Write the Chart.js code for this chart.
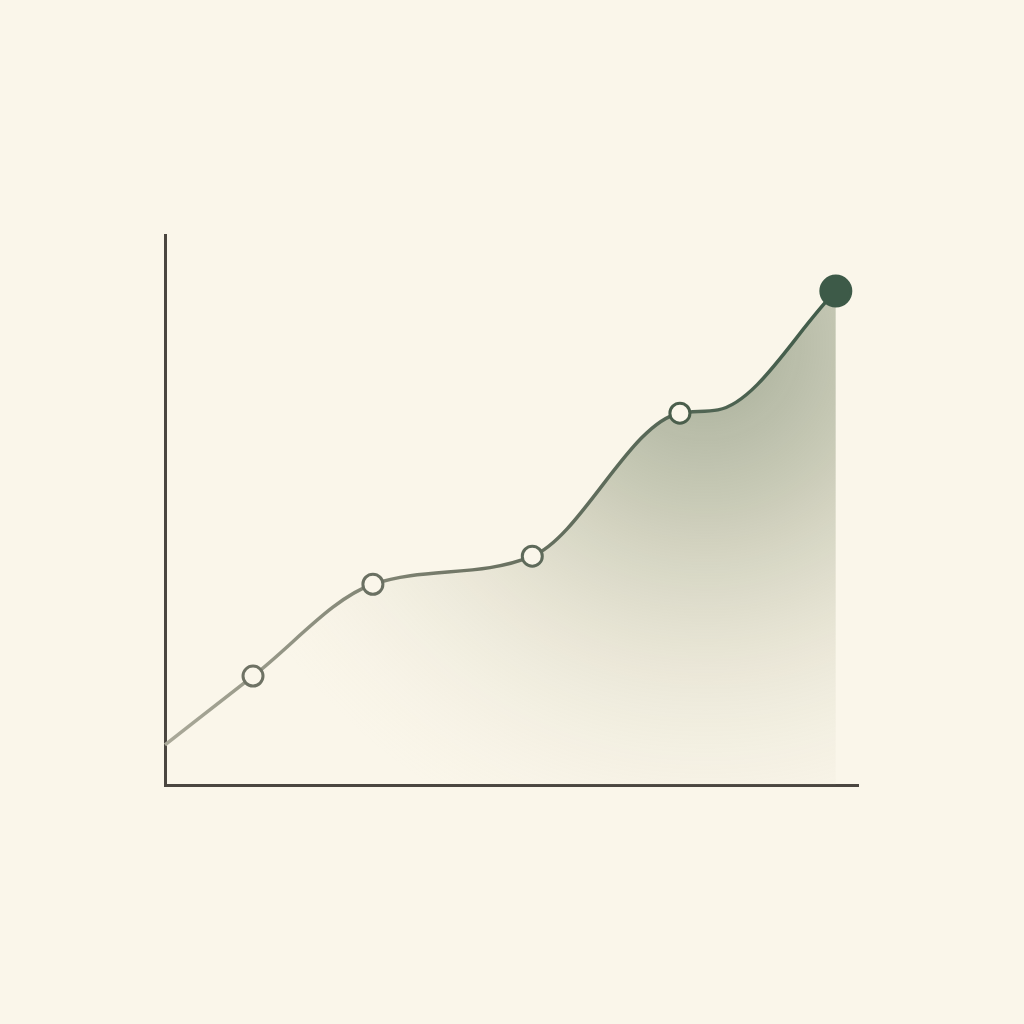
<!DOCTYPE html>
<html>
<head>
<meta charset="utf-8">
<script src="https://cdn.jsdelivr.net/npm/chart.js@4/dist/chart.umd.min.js"></script>
<style>
  html, body { margin: 0; padding: 0; background: #faf6ea; }
  #wrap { width: 1024px; height: 1024px; }
</style>
</head>
<body>
<div id="wrap"><canvas id="growthChart"></canvas></div>
<script>
// values (x and y both on a 0-100 scale)
// the unmarked point at 79.8 is where the curve levels off before the last climb
const xValues = [0, 12.7, 30, 53, 74.3, 79.8, 96.8];
const yValues = [7.3, 19.8, 36.5, 41.6, 67.6, 68.2, 89.8];
const pointSizes = [0, 10, 10, 10, 10, 0, 15];
const pointEdges = ['#8a8c7c', '#6e7264', '#6a7062', '#5e6a5a', '#4a5e4c', '#44584a', '#3d5a48'];
const pointFills = ['#faf6ea', '#faf6ea', '#faf6ea', '#faf6ea', '#faf6ea', '#faf6ea', '#3d5a48'];

const points = xValues.map((x, i) => ({ x: x, y: yValues[i] }));

function lineGradient(ctx) {
  const area = ctx.chart.chartArea;
  if (!area) return '#5e6a5a';
  const g = ctx.chart.ctx.createLinearGradient(area.left, 0, area.right, 0);
  g.addColorStop(0, '#aaa999');
  g.addColorStop(0.45, '#6e7464');
  g.addColorStop(1, '#3d5a48');
  return g;
}

function fillGradient(ctx) {
  const area = ctx.chart.chartArea;
  if (!area) return 'rgba(0,0,0,0)';
  const c = ctx.chart.ctx;
  const cx = area.left + 0.78 * (area.right - area.left);
  const cy = area.top + 110;
  const g = c.createRadialGradient(cx, cy, 0, cx, cy, 520);
  g.addColorStop(0, 'rgba(110, 125, 100, 0.62)');
  g.addColorStop(0.3, 'rgba(130, 140, 110, 0.42)');
  g.addColorStop(0.65, 'rgba(170, 170, 140, 0.17)');
  g.addColorStop(1, 'rgba(230, 225, 205, 0.0)');
  return g;
}

new Chart(document.getElementById('growthChart').getContext('2d'), {
  type: 'line',
  data: {
    datasets: [{
      data: points,
      borderColor: lineGradient,
      borderWidth: 3.5,
      backgroundColor: fillGradient,
      fill: 'origin',
      cubicInterpolationMode: 'monotone',
      pointRadius: pointSizes,
      pointBorderWidth: 3,
      pointBorderColor: pointEdges,
      pointBackgroundColor: pointFills,
      clip: false
    }]
  },
  options: {
    responsive: true,
    maintainAspectRatio: false,
    animation: false,
    events: [],
    layout: { padding: { left: 165, right: 166, top: 235, bottom: 239 } },
    plugins: { legend: { display: false }, tooltip: { enabled: false } },
    scales: {
      x: {
        type: 'linear',
        min: 0,
        max: 100,
        grid: { display: false, drawTicks: false },
        ticks: { display: false },
        border: { display: true, color: '#4a4640', width: 3 }
      },
      y: {
        min: 0,
        max: 100,
        grid: { display: false, drawTicks: false },
        ticks: { display: false },
        border: { display: true, color: '#4a4640', width: 3 }
      }
    }
  }
});
</script>
</body>
</html>
